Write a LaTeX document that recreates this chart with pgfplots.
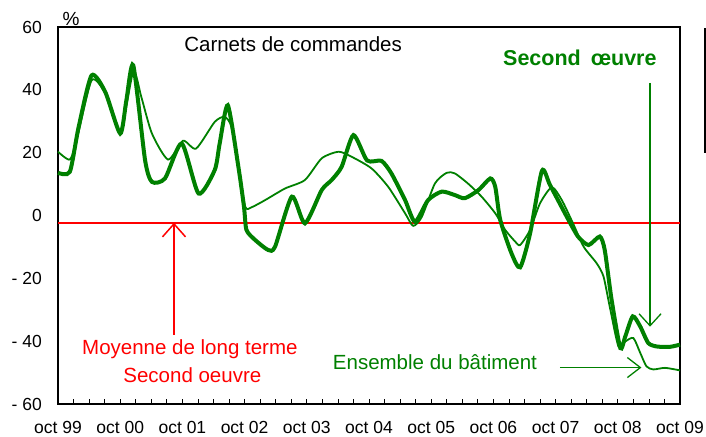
\documentclass[border=0pt]{standalone}
\usepackage{pgfplots}
\pgfplotsset{compat=1.18}
\usepackage{fontspec}
\setmainfont{Liberation Sans}
\usetikzlibrary{arrows.meta}
\definecolor{vert}{RGB}{0,128,0}
\definecolor{rouge}{RGB}{255,0,0}

\begin{document}
\begin{tikzpicture}
\useasboundingbox (0,0) rectangle (706pt,436pt);
\begin{axis}[
  at={(58pt,32pt)}, anchor=south west,
  scale only axis, width=622pt, height=377pt,
  xmin=0, xmax=10, ymin=-60, ymax=60,
  xtick={0,...,10},
  xticklabels={oct 99,oct 00,oct 01,oct 02,oct 03,oct 04,oct 05,oct 06,oct 07,oct 08,oct 09},
  minor x tick num=3,
  xtick pos=left, tick align=inside,
  ytick={-60,-40,-20,0,20,40,60},
  yticklabels={- 60,- 40,- 20,0,20,40,60},
  ytick style={draw=none},
  major tick length=5pt, minor tick length=5pt,
  xtick style={black, line width=0.8pt},
  ticklabel style={font=\fontsize{17.5}{19}\selectfont},
  xticklabel style={anchor=north, inner sep=0pt, yshift=-17pt},
  yticklabel style={anchor=east, inner sep=0pt, xshift=-16pt},
  axis line style={black, line width=1.5pt},
  clip=false,
]
% moyenne de long terme
\addplot[rouge, line width=2pt] coordinates {(0,-2.3) (10,-2.3)};

% Ensemble du batiment (fin)
\addplot[vert, line width=1.8pt, smooth, tension=0.4] coordinates {
(0.00,20.3) (0.19,17.8) (0.30,24) (0.54,43.0) (0.76,38.8) (1.00,26.6)
(1.21,45.7) (1.34,37.7) (1.51,26.1) (1.77,17.8) (2.01,23.8) (2.22,21.3)
(2.52,29.8) (2.68,31.4) (2.79,28.2) (2.90,15.5) (3.01,2.8) (3.11,2.6)
(3.33,4.9) (3.65,8.6) (3.97,11.3) (4.24,18.2) (4.51,20.3) (4.72,18.7)
(5.04,15.0) (5.31,9.1) (5.58,0.7) (5.71,-3.3) (5.85,-0.4) (6.06,10.2)
(6.25,13.6) (6.38,13.4) (6.59,10.2) (6.81,6.0) (7.03,0.7) (7.19,-4.6)
(7.35,-8.3) (7.43,-9.4) (7.59,-4.6) (7.75,3.9) (7.94,9.0) (8.10,4.9)
(8.28,-2.5) (8.45,-9.9) (8.66,-15.2) (8.77,-19.4) (8.87,-29.0) (9.01,-41.7)
(9.12,-40.1) (9.25,-39.0) (9.36,-43.7) (9.46,-48.0) (9.57,-49.0) (9.76,-48.5)
(10.0,-49.3)
};

% Second oeuvre (epais)
\addplot[vert, line width=4pt, smooth, tension=0.4] coordinates {
(0.00,13.6) (0.19,13.9) (0.33,28) (0.54,44.6) (0.76,39.3) (1.00,26.1)
(1.10,36.8) (1.21,47.8) (1.40,17.6) (1.51,10.7) (1.72,11.8) (1.99,22.9)
(2.26,7.0) (2.52,14.5) (2.60,23) (2.73,35.1) (2.90,15.5) (2.99,2.8)
(3.03,-4.6) (3.17,-7.8) (3.38,-11) (3.49,-9.9) (3.76,6.0) (3.97,-2.5)
(4.24,8.1) (4.40,11.3) (4.56,15.5) (4.75,25.6) (4.97,17.5) (5.20,17.4)
(5.36,13.4) (5.58,4.9) (5.74,-2.0) (5.95,4.9) (6.17,7.6) (6.38,6.5)
(6.54,5.5) (6.76,8.1) (6.95,11.8) (7.03,9.1) (7.11,-1.4) (7.29,-12)
(7.43,-16.5) (7.59,-5.7) (7.78,14.2) (7.91,9.7) (8.18,-0.4) (8.36,-6.7)
(8.53,-9.4) (8.71,-6.7) (8.79,-11) (8.90,-26.8) (9.04,-42.2) (9.12,-38.5)
(9.24,-32.1) (9.36,-35.3) (9.49,-40.6) (9.63,-41.7) (9.84,-41.8) (10.0,-41.1)
};

% annotations
\node[anchor=base, inner sep=0pt, font=\fontsize{19}{21}\selectfont] at (axis cs:0.21,60.4) {\%};
\node[anchor=base, inner sep=0pt, font=\fontsize{20.5}{24}\selectfont] at (axis cs:3.78,52.3) {Carnets de commandes};
\node[anchor=base, inner sep=0pt, text=vert, font=\fontsize{21.5}{24}\selectfont\bfseries] at (axis cs:8.39,47.9) {Second\hspace{10pt}œuvre};
\draw[vert, line width=1.3pt, -{Straight Barb[length=12pt,width=22pt]}] (axis cs:9.518,42.2) -- (axis cs:9.518,-35.4);

\draw[rouge, line width=1.5pt, -{Straight Barb[length=13pt,width=23pt]}] (axis cs:1.865,-38) -- (axis cs:1.865,-2.3);
\node[anchor=base, inner sep=0pt, text=rouge, font=\fontsize{20.5}{24}\selectfont] at (axis cs:2.12,-44.4) {Moyenne de long terme};
\node[anchor=base, inner sep=0pt, text=rouge, font=\fontsize{20.5}{24}\selectfont] at (axis cs:2.16,-53.2) {Second oeuvre};

\node[anchor=base, inner sep=0pt, text=vert, font=\fontsize{20.5}{24}\selectfont] at (axis cs:6.06,-48.9) {Ensemble du bâtiment};
\draw[vert, line width=1.3pt, -{Straight Barb[length=13pt,width=20pt]}] (axis cs:8.07,-48.4) -- (axis cs:9.38,-48.4);
\end{axis}
\draw[line width=2pt] (704.5pt,283pt) -- (704.5pt,408pt);
\end{tikzpicture}
\end{document}
